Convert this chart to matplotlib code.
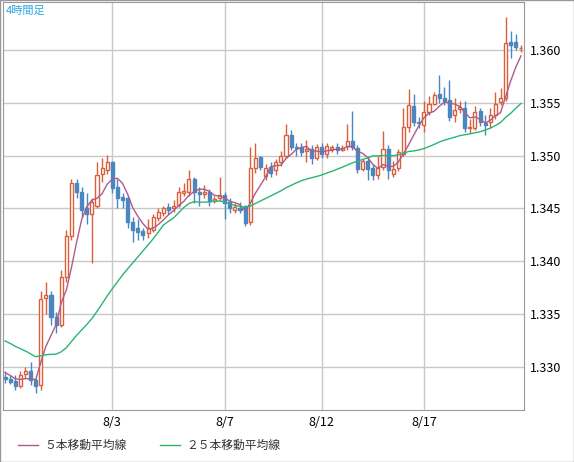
import matplotlib
matplotlib.use("Agg")
import matplotlib.pyplot as plt
from matplotlib.patches import Rectangle
import numpy as np
import pandas as pd

opens = [1.3291,1.3289,1.3287,1.3282,1.3293,1.3296,1.3288,1.3283,1.3365,1.3368,1.3347,1.3340,1.3385,1.3424,1.3474,1.3466,1.3450,1.3445,1.3452,1.3483,
         1.3486,1.3494,1.3470,1.3461,1.3460,1.3437,1.3432,1.3429,1.3427,1.3430,1.3441,1.3446,1.3451,1.3450,1.3453,1.3465,1.3466,1.3478,1.3466,1.3464,
         1.3466,1.3457,1.3460,1.3463,1.3456,1.3449,1.3450,1.3452,1.3437,1.3488,1.3499,1.3481,1.3489,1.3486,1.3494,1.3500,1.3520,1.3508,1.3508,1.3504,
         1.3506,1.3498,1.3508,1.3502,1.3506,1.3508,1.3505,1.3509,1.3514,1.3507,1.3487,1.3495,1.3488,1.3482,1.3489,1.3506,1.3483,1.3488,1.3502,1.3527,
         1.3547,1.3532,1.3529,1.3541,1.3549,1.3558,1.3555,1.3553,1.3538,1.3544,1.3545,1.3526,1.3526,1.3542,1.3531,1.3532,1.3538,1.3551,1.3555,1.3608,
         1.3608,1.3602]
closes = [1.3289,1.3286,1.3282,1.3292,1.3296,1.3288,1.3282,1.3364,1.3368,1.3347,1.3340,1.3385,1.3424,1.3474,1.3466,1.3449,1.3445,1.3456,1.3482,1.3488,
          1.3494,1.3469,1.3460,1.3458,1.3437,1.3430,1.3428,1.3425,1.3432,1.3442,1.3447,1.3450,1.3449,1.3452,1.3466,1.3467,1.3478,1.3466,1.3464,1.3466,
          1.3457,1.3459,1.3463,1.3455,1.3450,1.3451,1.3449,1.3436,1.3488,1.3498,1.3489,1.3488,1.3484,1.3494,1.3500,1.3520,1.3508,1.3507,1.3503,1.3506,
          1.3498,1.3508,1.3502,1.3509,1.3508,1.3505,1.3507,1.3514,1.3508,1.3487,1.3495,1.3487,1.3482,1.3488,1.3506,1.3486,1.3487,1.3503,1.3527,1.3548,
          1.3532,1.3531,1.3541,1.3549,1.3557,1.3555,1.3552,1.3537,1.3543,1.3546,1.3526,1.3527,1.3541,1.3532,1.3529,1.3538,1.3549,1.3555,1.3607,1.3605,
          1.3603,1.3602]
highs = [1.3296,1.3292,1.3292,1.3296,1.3300,1.3305,1.3290,1.3372,1.3380,1.3372,1.3352,1.3392,1.3430,1.3478,1.3478,1.3470,1.3465,1.3460,1.3494,1.3498,
         1.3501,1.3495,1.3478,1.3465,1.3462,1.3442,1.3440,1.3432,1.3440,1.3445,1.3450,1.3452,1.3455,1.3458,1.3470,1.3474,1.3486,1.3480,1.3470,1.3472,
         1.3468,1.3462,1.3480,1.3466,1.3460,1.3455,1.3456,1.3453,1.3508,1.3512,1.3500,1.3492,1.3494,1.3497,1.3504,1.3530,1.3524,1.3512,1.3512,1.3515,
         1.3510,1.3511,1.3512,1.3512,1.3510,1.3512,1.3510,1.3530,1.3542,1.3510,1.3497,1.3500,1.3492,1.3500,1.3523,1.3510,1.3495,1.3506,1.3545,1.3563,
         1.3558,1.3537,1.3552,1.3556,1.3560,1.3576,1.3565,1.3572,1.3555,1.3552,1.3552,1.3535,1.3547,1.3545,1.3538,1.3545,1.3560,1.3564,1.3631,1.3618,
         1.3615,1.3605]
lows = [1.3285,1.3284,1.3278,1.3280,1.3290,1.3283,1.3275,1.3278,1.3350,1.3340,1.3332,1.3338,1.3380,1.3420,1.3460,1.3442,1.3435,1.3398,1.3450,1.3475,
        1.3483,1.3465,1.3450,1.3450,1.3432,1.3418,1.3420,1.3420,1.3422,1.3428,1.3438,1.3443,1.3445,1.3447,1.3451,1.3462,1.3462,1.3455,1.3452,1.3460,
        1.3452,1.3455,1.3457,1.3440,1.3446,1.3446,1.3446,1.3433,1.3434,1.3484,1.3486,1.3477,1.3480,1.3482,1.3490,1.3498,1.3505,1.3500,1.3500,1.3494,
        1.3492,1.3496,1.3498,1.3498,1.3503,1.3502,1.3504,1.3505,1.3505,1.3484,1.3485,1.3477,1.3477,1.3478,1.3486,1.3478,1.3480,1.3485,1.3500,1.3522,
        1.3528,1.3526,1.3522,1.3538,1.3548,1.3550,1.3548,1.3533,1.3532,1.3540,1.3522,1.3521,1.3524,1.3528,1.3520,1.3526,1.3535,1.3548,1.3552,1.3592,
        1.3600,1.3598]
history_closes = [1.3345,1.3350,1.3348,1.3352,1.3355,1.3350,1.3345,1.3340,1.3338,1.3335,1.3330,1.3328,
                  1.3325,1.3322,1.3320,1.3318,1.3315,1.3312,1.3310,1.3305,1.3300,1.3298,1.3295,1.3292]
tick_idx = [21, 43, 62, 82]
tick_labels = ["8/3", "8/7", "8/12", "8/17"]
yticks = [1.330, 1.335, 1.340, 1.345, 1.350, 1.355, 1.360]

plt.rcParams['font.family'] = ['Noto Sans CJK JP', 'DejaVu Sans']
W, H = 574, 462
fig = plt.figure(figsize=(W/100, H/100), dpi=100)
ax = fig.add_axes([3/W, 52/H, 521/W, 408/H])

allc = pd.Series(history_closes + closes)
ma5 = allc.rolling(5).mean().values[len(history_closes):]
ma25 = allc.rolling(25, min_periods=1).mean().values[len(history_closes):]
x = np.arange(len(closes))

red, blue = '#d9603b', '#4a86c0'
for i in x:
    o, c = opens[i], closes[i]
    col = red if c >= o else blue
    ax.vlines(i, lows[i], highs[i], color=col, lw=1, zorder=3)
    lo, hi = min(o, c), max(o, c)
    h = max(hi - lo, 0.00003)
    if c >= o:
        ax.add_patch(Rectangle((i-0.3, lo), 0.6, h, facecolor='white', edgecolor=red, lw=1, zorder=4))
    else:
        ax.add_patch(Rectangle((i-0.3, lo), 0.6, h, facecolor=blue, edgecolor=blue, lw=1, zorder=4))

ax.plot(x, ma5, color='#b05a8a', lw=1, zorder=5)
ax.plot(x, ma25, color='#2db374', lw=1, zorder=5)

ax.set_xlim(-0.4, 101.6)
ax.set_ylim(1.32593, 1.36454)
ax.set_xticks(tick_idx)
ax.set_xticklabels(tick_labels, fontsize=9)
ax.set_yticks(yticks)
ax.set_yticklabels([f"{v:.3f}" for v in yticks], fontsize=9)
ax.yaxis.tick_right()
ax.tick_params(length=0, pad=4)
ax.grid(True, color='#c8c8c8', lw=1)
ax.set_axisbelow(True)
for s in ax.spines.values():
    s.set_color('#999999')
ax.text(0.005, 0.99, "4時間足", transform=ax.transAxes, color='#2aa8e0', fontsize=8, va='top')

fig.lines.append(plt.Line2D([18/W, 38/W], [17/H, 17/H], color='#b05a8a', lw=1, transform=fig.transFigure))
fig.text(44/W, 17/H, "５本移動平均線", fontsize=8.5, va='center', color='#333333')
fig.lines.append(plt.Line2D([160/W, 180/W], [17/H, 17/H], color='#2db374', lw=1, transform=fig.transFigure))
fig.text(186/W, 17/H, "２５本移動平均線", fontsize=8.5, va='center', color='#333333')
fig.patches.append(Rectangle((0, 0), 1, 1, transform=fig.transFigure, fill=False, edgecolor='#999999', lw=1))
fig.savefig("out.png", dpi=100)
